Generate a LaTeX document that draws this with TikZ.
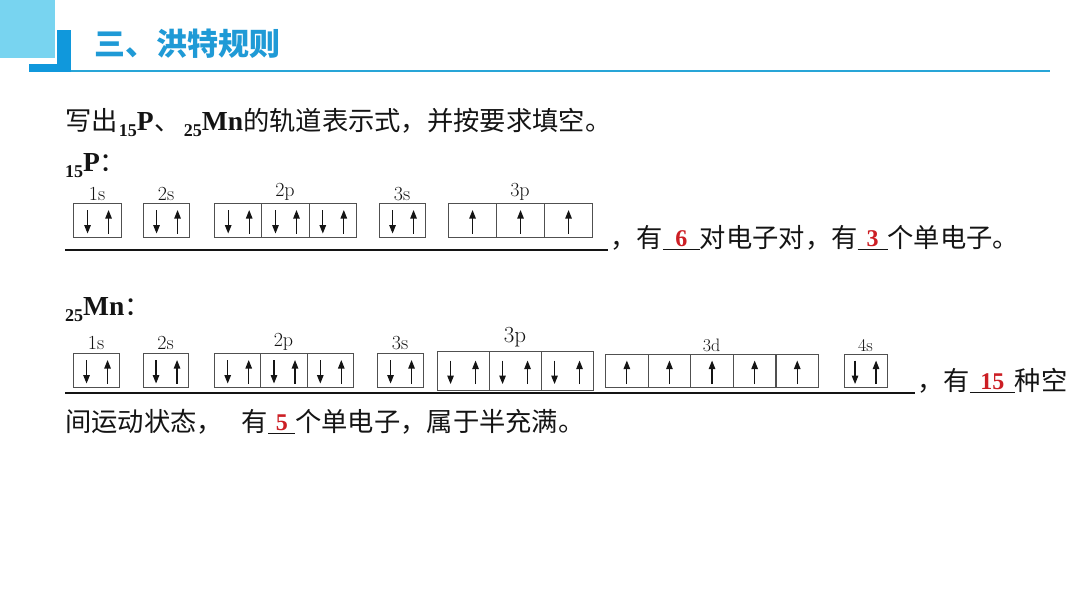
\documentclass[tikz,border=0pt]{standalone}
\usepackage{fontspec}
\usetikzlibrary{arrows.meta}
\newfontfamily\cjk{Noto Sans CJK SC}
\newfontfamily\tnr{Liberation Serif}
\definecolor{lightblue}{RGB}{120,212,240}
\definecolor{darkblue}{RGB}{16,152,220}
\definecolor{lineblue}{RGB}{40,165,215}
\definecolor{titleblue}{RGB}{31,154,214}
\definecolor{ansred}{RGB}{204,30,36}
\definecolor{boxgray}{RGB}{80,80,80}
\definecolor{inkc}{RGB}{20,20,20}
\newcommand\fsz[1]{\fontsize{#1}{#1}\selectfont}
\newcommand\subnum[1]{\raisebox{-6pt}{\fsz{18}\tnr\bfseries #1}}
\newcommand\elem[1]{{\fsz{27.5}\tnr\bfseries #1}}
\newcommand\blank[2]{\rlap{\rule[-3pt]{#1pt}{1.3pt}}\makebox[#1pt]{\raisebox{1pt}{\color{ansred}\fsz{24}\tnr\bfseries #2}}}
\newcommand\cell[5]{\node[cellbox, minimum width=#4pt, minimum height=#5pt] (#1) at (#2,-#3) {};}
\newcommand\pairspin[3]{%
  \draw[spin] ([xshift=-#2pt, yshift=10.5pt]#1.center) -- ([xshift=-#2pt, yshift=-13pt]#1.center);
  \draw[spin] ([xshift=#3pt, yshift=-13pt]#1.center) -- ([xshift=#3pt, yshift=10.5pt]#1.center);}
\newcommand\singlespin[1]{\draw[spin] ([yshift=-13pt]#1.center) -- ([yshift=10.5pt]#1.center);}
\tikzset{
  cellbox/.style={draw=boxgray, line width=1.1pt, inner sep=0pt, anchor=north west},
  spin/.style={draw=inkc, line width=1.15pt, -{Triangle[length=8.5pt,width=6.5pt]}},
  orblabel/.style={inner sep=0pt, anchor=base, text=inkc, font=\fsz{20}},
  txt/.style={inner sep=0pt, anchor=base west, text=inkc, font=\cjk\fsz{26.3}},
  uline/.style={draw=inkc, line width=1.6pt},
}
\begin{document}
\begin{tikzpicture}[x=1pt,y=1pt]
\useasboundingbox (0,0) rectangle (1080,-608);
\fill[white] (0,0) rectangle (1080,-608);
% header
\fill[lightblue] (0,0) rectangle (55,-58);
\fill[darkblue] (57,-30) rectangle (71,-72);
\fill[darkblue] (29,-64) rectangle (71,-72);
\draw[lineblue, line width=2.2pt] (71,-70.8) -- (1050,-70.8);
\node[anchor=base west, inner sep=0pt, text=titleblue, font=\cjk\bfseries\fsz{31}] (title) at (94,-55) {三、洪特规则};
% question
\node[txt] (q) at (65,-130) {写出\hspace{1pt}\subnum{15}\elem{P}\hspace{1pt}、\hspace{3pt}\subnum{25}\elem{Mn}的轨道表示式，并按要求填空。};
\node[txt] (pl) at (65,-171) {\subnum{15}\elem{P}：};
% P orbitals
\cell{p1s}{73}{203}{48}{34}
\cell{p2s}{143}{203}{46}{34}
\cell{p2pa}{214}{203}{47.3}{34}
\cell{p2pb}{261.3}{203}{47.3}{34}
\cell{p2pc}{308.6}{203}{47.3}{34}
\cell{p3s}{379}{203}{46}{34}
\cell{p3pa}{448}{203}{48}{34}
\cell{p3pb}{496}{203}{48}{34}
\cell{p3pc}{544}{203}{48}{34}
\pairspin{p1s}{10}{11}
\pairspin{p2s}{10}{11}
\pairspin{p2pa}{10}{11}
\pairspin{p2pb}{10}{11}
\pairspin{p2pc}{10}{11}
\pairspin{p3s}{10}{11}
\singlespin{p3pa}
\singlespin{p3pb}
\singlespin{p3pc}
\node[orblabel] (p1sl) at (97,-200) {1s};
\node[orblabel] (p2sl) at (166,-200) {2s};
\node[orblabel] (p2pl) at (285,-196) {2p};
\node[orblabel] (p3sl) at (402,-200) {3s};
\node[orblabel] (p3pl) at (520,-196) {3p};
\coordinate (pu1) at (65,-250);
\coordinate (pu2) at (608,-250);
\draw[uline] (pu1) -- (pu2);
\node[txt] (pans) at (610,-247) {，有\blank{37}{6}对电子对，有\blank{30}{3}个单电子。};
% Mn
\node[txt] (ml) at (65,-315) {\subnum{25}\elem{Mn}：};
\cell{m1s}{73}{353}{46}{34}
\cell{m2s}{143}{353}{45}{34}
\cell{m2pa}{214}{353}{46.3}{34}
\cell{m2pb}{260.3}{353}{46.3}{34}
\cell{m2pc}{306.6}{353}{46.3}{34}
\cell{m3s}{377}{353}{46}{34}
\cell{m3pa}{437}{351}{52}{39}
\cell{m3pb}{489}{351}{52}{39}
\cell{m3pc}{541}{351}{52}{39}
\cell{m3da}{605}{354}{42.6}{33}
\cell{m3db}{647.6}{354}{42.6}{33}
\cell{m3dc}{690.2}{354}{42.6}{33}
\cell{m3dd}{732.8}{354}{42.6}{33}
\cell{m3de}{775.4}{354}{42.6}{33}
\cell{m4s}{844}{354}{43}{33}
\pairspin{m1s}{10}{11}
\pairspin{m2s}{10}{11}
\pairspin{m2pa}{10}{11}
\pairspin{m2pb}{10}{11}
\pairspin{m2pc}{10}{11}
\pairspin{m3s}{10}{11}
\pairspin{m3pa}{13}{12}
\pairspin{m3pb}{13}{12}
\pairspin{m3pc}{13}{12}
\singlespin{m3da}
\singlespin{m3db}
\singlespin{m3dc}
\singlespin{m3dd}
\singlespin{m3de}
\pairspin{m4s}{11}{10}
\node[orblabel] (m1sl) at (96,-349) {1s};
\node[orblabel] (m2sl) at (165.5,-349) {2s};
\node[orblabel] (m2pl) at (283.5,-346) {2p};
\node[orblabel] (m3sl) at (400,-349) {3s};
\node[orblabel, font=\fsz{23}] (m3pl) at (515,-342) {3p};
\node[orblabel, font=\fsz{18}] (m3dl) at (711.5,-351) {3d};
\node[orblabel, font=\fsz{18}] (m4sl) at (865.5,-351) {4s};
\coordinate (mu1) at (65,-393);
\coordinate (mu2) at (915,-393);
\draw[uline] (mu1) -- (mu2);
\node[txt] (mans) at (917,-390) {，有\blank{45}{15}种空};
\node[txt] (mans2) at (65,-431) {间运动状态，\hspace{19pt}有\blank{27}{5}个单电子，属于半充满。};
\end{tikzpicture}
\end{document}
